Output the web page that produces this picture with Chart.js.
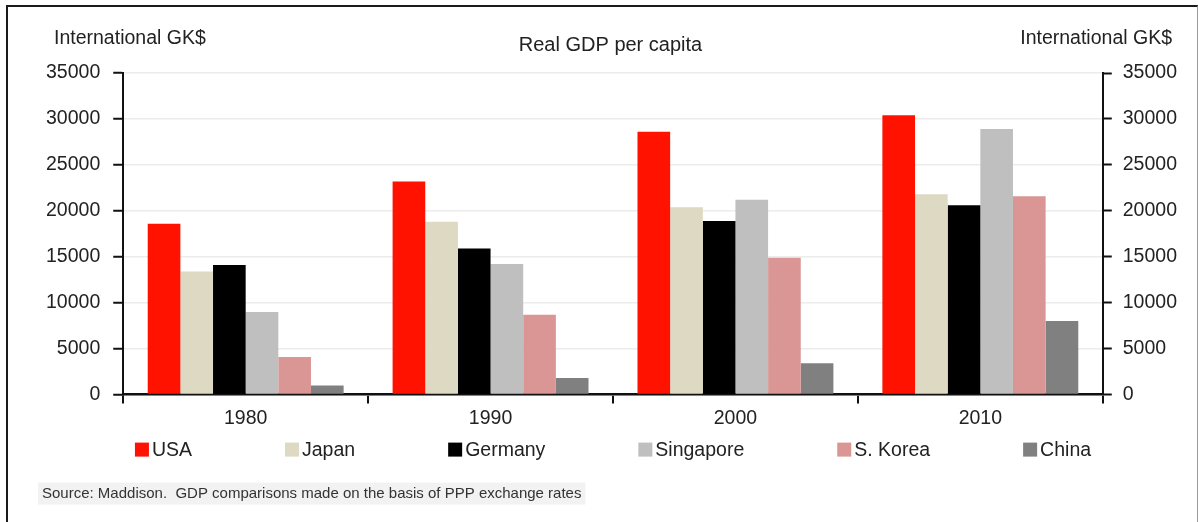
<!DOCTYPE html>
<html>
<head>
<meta charset="utf-8">
<title>Real GDP per capita</title>
<script src="https://cdn.jsdelivr.net/npm/chart.js@4.4.1/dist/chart.umd.min.js"></script>
<style>
  html, body { margin: 0; padding: 0; background: #fff; }
  #wrap { position: relative; width: 1198px; height: 522px; overflow: hidden; }
  #frame { position: absolute; left: 6px; top: 5px; width: 1189px; height: 530px;
           border-top: 2px solid #1a1a1a; border-left: 2px solid #1a1a1a; border-right: 1px solid #999; }
  canvas { position: absolute; left: 0; top: 0; }
</style>
</head>
<body>
<div id="wrap">
  <div id="frame"></div>
  <canvas id="gdp" width="1198" height="522"></canvas>
</div>
<script>
// data (international GK$ per head)
const years = ['1980', '1990', '2000', '2010'];
const usa       = [18600, 23200, 28600, 30400];
const japan     = [13400, 18800, 20400, 21800];
const germany   = [14100, 15900, 18900, 20600];
const singapore = [9000, 14200, 21200, 28900];
const sKorea    = [4100, 8700, 14900, 21600];
const china     = [1000, 1800, 3400, 8000];

const countries = ['USA', 'Japan', 'Germany', 'Singapore', 'S. Korea', 'China'];
const colors = ['#ff1200', '#ddd9c3', '#000000', '#bfbfbf', '#d99694', '#808080'];
const series = [usa, japan, germany, singapore, sKorea, china];

const yMin = 0, yMax = 35000, yStep = 5000;
const unitLabel = 'International GK$';
const sourceNote = 'Source: Maddison.  GDP comparisons made on the basis of PPP exchange rates';

const FONT = "'Liberation Sans', Arial, sans-serif";
const textColor = '#222';

// draws the unit labels, the legend row and the source line
const extras = {
  id: 'extras',
  afterDraw(chart) {
    const ctx = chart.ctx;
    const area = chart.chartArea;
    const yl = chart.scales.y, yr = chart.scales.y2;
    ctx.save();
    ctx.fillStyle = textColor;
    ctx.textBaseline = 'middle';
    ctx.font = '19.5px ' + FONT;
    ctx.textAlign = 'left';
    ctx.fillText(unitLabel, yl.left + 21, 39);
    ctx.textAlign = 'right';
    ctx.fillText(unitLabel, yr.right - 16, 39);

    // legend
    ctx.font = '19.5px ' + FONT;
    ctx.textAlign = 'left';
    const box = 14, gap = 3, space = 93;
    const items = chart.data.datasets.map(ds => ({
      text: ds.label, color: ds.backgroundColor, w: ctx.measureText(ds.label).width
    }));
    const total = items.reduce((s, it) => s + box + gap + it.w, 0) + space * (items.length - 1);
    let x = (area.left + area.right) / 2 - total / 2;
    const ly = area.bottom + 55;
    items.forEach(it => {
      ctx.fillStyle = it.color;
      ctx.fillRect(x, ly - box / 2, box, box);
      ctx.fillStyle = textColor;
      ctx.fillText(it.text, x + box + gap, ly + 1);
      x += box + gap + it.w + space;
    });

    // source
    ctx.font = '15px ' + FONT;
    const sw = ctx.measureText(sourceNote).width;
    const sy = area.bottom + 99;
    ctx.fillStyle = '#f2f2f2';
    ctx.fillRect(38, sy - 11, sw + 8, 22);
    ctx.fillStyle = '#333';
    ctx.fillText(sourceNote, 42, sy);
    ctx.restore();
  }
};

const tickFont = { family: FONT, size: 19.5 };
const plainNumber = v => String(v);

new Chart(document.getElementById('gdp').getContext('2d'), {
  type: 'bar',
  data: {
    labels: years,
    datasets: countries.map((name, i) => ({
      label: name,
      data: series[i],
      backgroundColor: colors[i],
      borderWidth: 0,
      yAxisID: 'y'
    }))
  },
  options: {
    responsive: false,
    animation: false,
    devicePixelRatio: 1,
    layout: { padding: { top: 33, left: 33, right: 10, bottom: 89 } },
    datasets: { bar: { categoryPercentage: 0.8, barPercentage: 1.0 } },
    plugins: {
      legend: { display: false },
      tooltip: { enabled: false },
      title: {
        display: true,
        text: 'Real GDP per capita',
        color: textColor,
        font: { family: FONT, size: 20, weight: 'normal' },
        padding: { top: 0, bottom: 16 }
      }
    },
    scales: {
      x: {
        offset: true,
        grid: { display: true, offset: true, drawOnChartArea: false, drawTicks: true,
                tickLength: 9, color: '#111', lineWidth: 2 },
        border: { display: true, color: '#111', width: 2.5 },
        ticks: { color: textColor, font: tickFont, padding: 3 }
      },
      y: {
        position: 'left',
        min: yMin, max: yMax,
        ticks: { stepSize: yStep, color: textColor, font: tickFont, padding: 13, callback: plainNumber },
        grid: { color: '#ececec', lineWidth: 1.5, drawTicks: true, tickLength: 10, tickColor: '#111', tickWidth: 2 },
        border: { display: true, color: '#111', width: 2 }
      },
      y2: {
        position: 'right',
        min: yMin, max: yMax,
        ticks: { stepSize: yStep, color: textColor, font: tickFont, padding: 11, callback: plainNumber },
        grid: { drawOnChartArea: false, drawTicks: true, tickLength: 9, tickColor: '#111', tickWidth: 2 },
        border: { display: true, color: '#111', width: 2 }
      }
    }
  },
  plugins: [extras]
});
</script>
</body>
</html>
